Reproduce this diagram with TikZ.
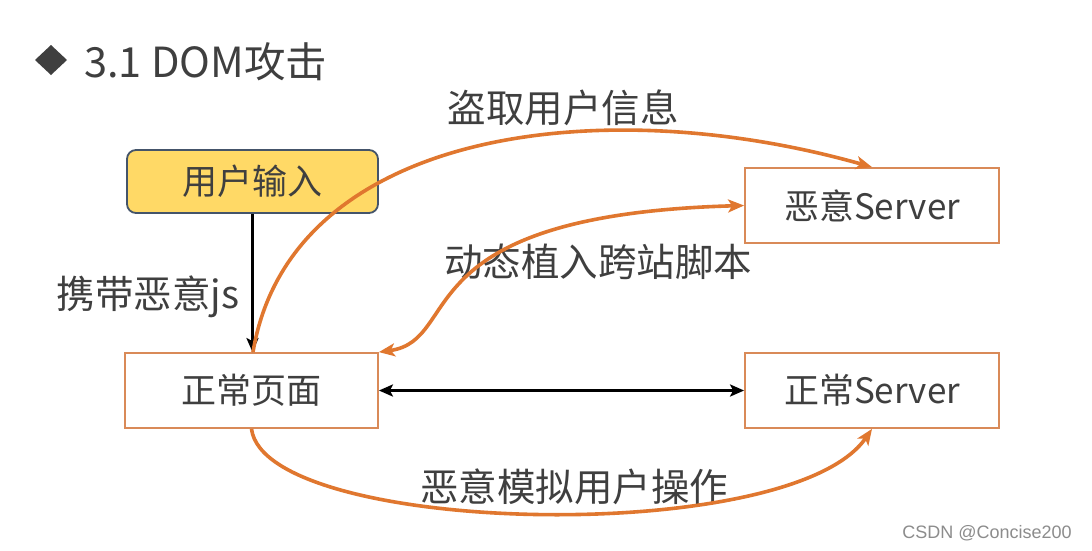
\documentclass[tikz,border=0pt]{standalone}
\usepackage{fontspec}
\setmainfont{Noto Sans CJK SC}
\newfontfamily\wmfont{Liberation Sans}
\usetikzlibrary{arrows.meta}
\definecolor{txt}{HTML}{3F3F3F}
\definecolor{org}{HTML}{E0772F}
\definecolor{orgbox}{HTML}{D98A58}
\definecolor{yel}{HTML}{FFD966}
\definecolor{yelb}{HTML}{44546A}
\definecolor{wm}{HTML}{8C8C8C}
\begin{document}
\begin{tikzpicture}[x=1pt,y=-1pt,
  box/.style={draw=orgbox,line width=1.8pt,fill=white,minimum width=253pt,minimum height=75pt,inner sep=0pt,text=txt,font=\fontsize{35}{40}\selectfont},
  ybox/.style={draw=yelb,line width=1.8pt,fill=yel,rounded corners=9pt,minimum width=251pt,minimum height=63pt,inner sep=0pt,text=txt,font=\fontsize{35}{40}\selectfont},
  lbl/.style={text=txt,inner sep=0pt,font=\fontsize{38.5}{44}\selectfont},
  oarrow/.style={draw=org,line width=3.6pt,-{Stealth[length=16pt,width=13pt,inset=4pt]}},
  oboth/.style={draw=org,line width=3.6pt,{Stealth[length=16pt,width=13pt,inset=4pt]}-{Stealth[length=16pt,width=13pt,inset=4pt]}},
  karrow/.style={draw=black,line width=3pt,-{Stealth[length=14pt,width=12pt,inset=3pt]}},
  kboth/.style={draw=black,line width=3pt,{Stealth[length=14pt,width=12pt,inset=3pt]}-{Stealth[length=14pt,width=12pt,inset=3pt]}}
]
\useasboundingbox[fill=white] (0,0) rectangle (1092,550);
% title
\fill[txt] (51,45) -- (67,60) -- (51,75) -- (35,60) -- cycle;
\node[anchor=west,text=txt,inner sep=0pt,font=\fontsize{41.5}{46}\selectfont] (title) at (84,62) {3.1 DOM攻击};
% boxes
\node[ybox] (user) at (252.5,181.5) {用户输入};
\node[box,minimum width=254pt] (evil) at (872,205.5) {恶意Server};
\node[box] (page) at (251.5,390.5) {正常页面};
\node[box,minimum width=254pt] (normal) at (872,390.5) {正常Server};
% labels
\node[lbl] (l1) at (563,108) {盗取用户信息};
\node[lbl] (l2) at (148,297) {携带恶意js};
\node[lbl] (l3) at (598,262) {动态植入跨站脚本};
\node[lbl] (l4) at (574,487) {恶意模拟用户操作};
% connectors
\draw[karrow] (user.south) -- (user.south |- page.north);
\draw[kboth] (page.east) -- (normal.west);
\draw[oarrow] ([xshift=1.5pt]page.north) .. controls (290,130) and (600,90) .. (evil.north);
\draw[oboth] (evil.west) .. controls (400,215) and (465,340) .. (page.north east);
\draw[oarrow] (page.south) .. controls (265,535) and (790,548) .. (normal.south);
% watermark
\node[text=wm,inner sep=0pt,font=\wmfont\fontsize{18}{20}\selectfont] (wmk) at (987,533) {CSDN @Concise200};
\end{tikzpicture}
\end{document}
